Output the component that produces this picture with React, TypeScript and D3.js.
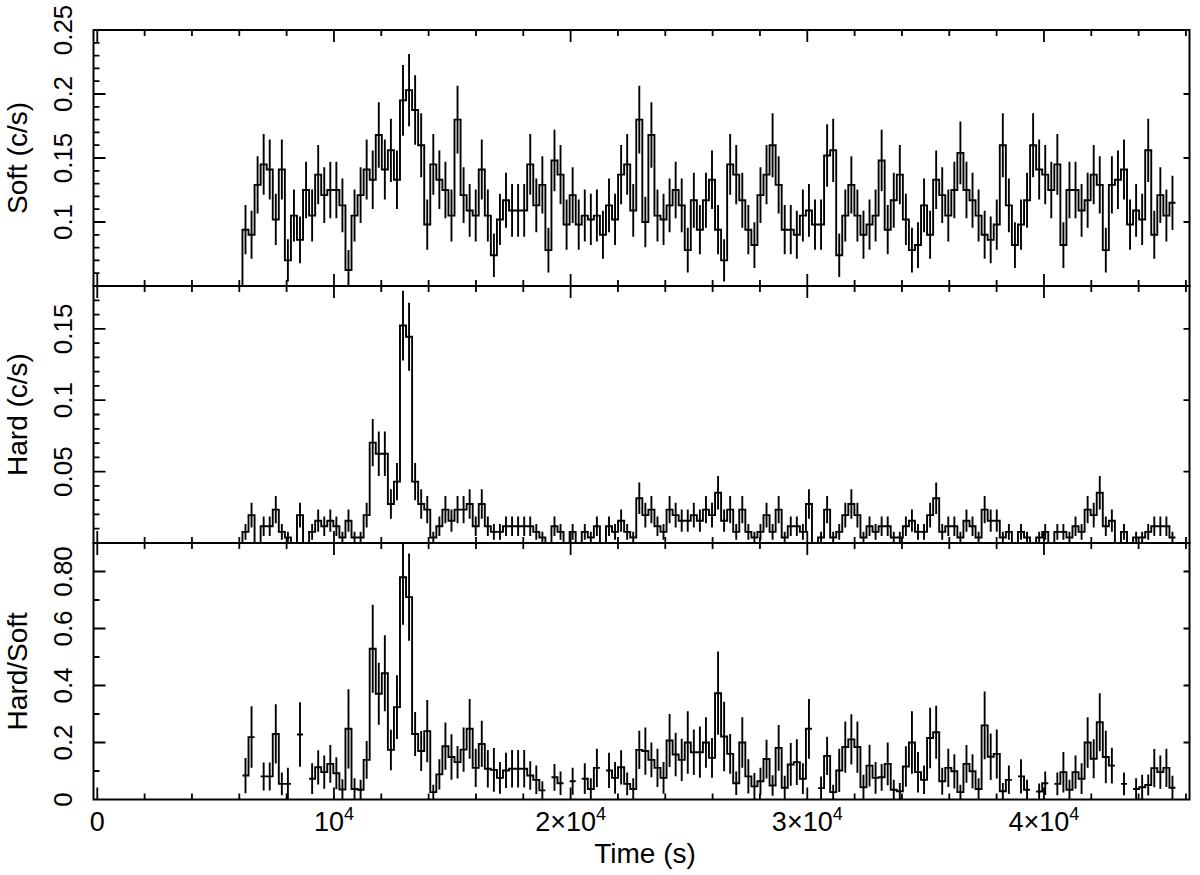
import React from 'react';
import * as d3 from 'd3';

// Light curve: 256 s bins starting at t = 6262 s (bin centres)
const BIN_START = 6262;
const BIN_WIDTH = 256;

const soft = [
  0.094,0.090,0.129,0.145,0.141,0.102,0.141,0.070,0.105,0.086,
  0.125,0.105,0.137,0.121,0.125,0.125,0.113,0.0625,0.105,0.121,
  0.141,0.133,0.168,0.141,0.156,0.133,0.195,0.203,0.1875,0.160,
  0.098,0.145,0.133,0.125,0.105,0.180,0.121,0.109,0.105,0.141,
  0.105,0.074,0.102,0.117,0.109,0.109,0.109,0.145,0.113,0.129,
  0.078,0.148,0.137,0.098,0.121,0.098,0.105,0.102,0.105,0.090,
  0.113,0.102,0.137,0.145,0.109,0.180,0.100,0.168,0.105,0.102,
  0.113,0.125,0.113,0.078,0.117,0.094,0.117,0.133,0.094,0.070,
  0.145,0.137,0.117,0.094,0.082,0.121,0.137,0.160,0.129,0.094,
  0.094,0.090,0.105,0.109,0.098,0.098,0.152,0.156,0.074,0.105,
  0.129,0.105,0.090,0.098,0.105,0.148,0.094,0.117,0.137,0.102,
  0.078,0.082,0.113,0.090,0.133,0.121,0.105,0.125,0.154,0.125,
  0.117,0.105,0.090,0.086,0.098,0.160,0.113,0.082,0.098,0.117,
  0.160,0.141,0.137,0.125,0.145,0.082,0.125,0.125,0.109,0.117,
  0.137,0.129,0.078,0.129,0.133,0.141,0.098,0.109,0.102,0.156,
  0.090,0.121,0.105,0.115,
];
const softErr = [
  0.0192,0.0188,0.0224,0.0238,0.0235,0.0200,0.0235,0.0165,0.0203,0.0183,
  0.0221,0.0203,0.0231,0.0217,0.0221,0.0221,0.0210,0.0156,0.0203,0.0217,
  0.0235,0.0228,0.0256,0.0235,0.0247,0.0228,0.0276,0.0282,0.0271,0.0250,
  0.0196,0.0238,0.0228,0.0221,0.0203,0.0265,0.0217,0.0206,0.0203,0.0235,
  0.0203,0.0170,0.0200,0.0214,0.0206,0.0206,0.0206,0.0238,0.0210,0.0224,
  0.0175,0.0240,0.0231,0.0196,0.0217,0.0196,0.0203,0.0200,0.0203,0.0188,
  0.0210,0.0200,0.0231,0.0238,0.0206,0.0265,0.0198,0.0256,0.0203,0.0200,
  0.0210,0.0221,0.0210,0.0175,0.0214,0.0192,0.0214,0.0228,0.0192,0.0165,
  0.0238,0.0231,0.0214,0.0192,0.0179,0.0217,0.0231,0.0250,0.0224,0.0192,
  0.0192,0.0188,0.0203,0.0206,0.0196,0.0196,0.0244,0.0247,0.0170,0.0203,
  0.0224,0.0203,0.0188,0.0196,0.0203,0.0240,0.0192,0.0214,0.0231,0.0200,
  0.0175,0.0179,0.0210,0.0188,0.0228,0.0217,0.0203,0.0221,0.0245,0.0221,
  0.0214,0.0203,0.0188,0.0183,0.0196,0.0250,0.0210,0.0179,0.0196,0.0214,
  0.0250,0.0235,0.0231,0.0221,0.0238,0.0179,0.0221,0.0221,0.0206,0.0214,
  0.0231,0.0224,0.0175,0.0224,0.0228,0.0235,0.0196,0.0206,0.0200,0.0247,
  0.0188,0.0217,0.0203,0.0212,
];

const hard = [
  0.0078,0.0195,0,0.0117,0.0117,0.0234,0.0078,0.0039,0,0.0195,
  0,0.0078,0.0156,0.0117,0.0156,0.0117,0.0039,0.0156,0.0039,0.0039,
  0.0195,0.0703,0.0625,0.0625,0.0273,0.0430,0.1523,0.1445,0.0430,0.0273,
  0.0234,0.0039,0.0117,0.0234,0.0156,0.0234,0.0234,0.0273,0.0117,0.0273,
  0.0117,0.0078,0.0078,0.0117,0.0117,0.0117,0.0117,0.0117,0.0078,0.0039,
  0,0.0117,0.0078,0,0.0078,0,0.0078,0.0039,0.0117,0,
  0.0117,0.0078,0.0156,0.0078,0.0039,0.0313,0.0195,0.0234,0.0117,0.0078,
  0.0234,0.0195,0.0156,0.0156,0.0195,0.0156,0.0234,0.0195,0.0352,0.0156,
  0.0234,0.0078,0.0234,0.0078,0.0039,0.0078,0.0195,0.0078,0.0234,0.0039,
  0.0117,0.0117,0.0078,0.0273,0,0.0039,0.0234,0.0039,0.0078,0.0195,
  0.0273,0.0195,0.0039,0.0117,0.0078,0.0117,0.0117,0.0039,0.0039,0.0117,
  0.0156,0.0078,0.0078,0.0195,0.0313,0.0078,0.0117,0.0117,0.0039,0.0156,
  0.0117,0.0039,0.0234,0.0156,0.0156,0.0039,0.0078,0,0.0078,0.0039,
  0,0.0039,0.0078,0,0.0078,0.0078,0.0039,0.0117,0.0078,0.0234,
  0.0195,0.0352,0.0117,0.0156,0,0.0078,0,0.0039,0.0039,0.0078,
  0.0117,0.0117,0.0117,0.0039,
];
const hardErr = [
  0.0055,0.0087,0,0.0068,0.0068,0.0096,0.0055,0.0039,0,0.0087,
  0,0.0055,0.0078,0.0068,0.0078,0.0068,0.0039,0.0078,0.0039,0.0039,
  0.0087,0.0166,0.0156,0.0156,0.0103,0.0130,0.0244,0.0238,0.0130,0.0103,
  0.0096,0.0039,0.0068,0.0096,0.0078,0.0096,0.0096,0.0103,0.0068,0.0103,
  0.0068,0.0055,0.0055,0.0068,0.0068,0.0068,0.0068,0.0068,0.0055,0.0039,
  0,0.0068,0.0055,0,0.0055,0,0.0055,0.0039,0.0068,0,
  0.0068,0.0055,0.0078,0.0055,0.0039,0.0110,0.0087,0.0096,0.0068,0.0055,
  0.0096,0.0087,0.0078,0.0078,0.0087,0.0078,0.0096,0.0087,0.0117,0.0078,
  0.0096,0.0055,0.0096,0.0055,0.0039,0.0055,0.0087,0.0055,0.0096,0.0039,
  0.0068,0.0068,0.0055,0.0103,0,0.0039,0.0096,0.0039,0.0055,0.0087,
  0.0103,0.0087,0.0039,0.0068,0.0055,0.0068,0.0068,0.0039,0.0039,0.0068,
  0.0078,0.0055,0.0055,0.0087,0.0110,0.0055,0.0068,0.0068,0.0039,0.0078,
  0.0068,0.0039,0.0096,0.0078,0.0078,0.0039,0.0055,0,0.0055,0.0039,
  0,0.0039,0.0055,0,0.0055,0.0055,0.0039,0.0068,0.0055,0.0096,
  0.0087,0.0117,0.0068,0.0078,0,0.0055,0,0.0039,0.0039,0.0055,
  0.0068,0.0068,0.0068,0.0039,
];

const ratio: (number | null)[] = [
  0.084,0.219,null,0.081,0.081,0.230,0.055,0.055,null,0.228,
  null,0.073,0.113,0.096,0.125,0.092,0.035,0.248,0.037,0.034,
  0.139,0.529,0.371,0.443,0.174,0.324,0.780,0.710,0.230,0.170,
  0.240,0.026,0.088,0.187,0.149,0.131,0.175,0.248,0.111,0.195,
  0.108,0.104,0.076,0.102,0.108,0.108,0.108,0.084,0.069,0.032,
  null,0.078,0.057,null,0.064,null,0.073,0.037,0.111,null,
  0.102,0.076,0.113,0.055,0.037,0.174,0.170,0.139,0.111,0.076,
  0.207,0.158,0.139,0.200,0.166,0.166,0.200,0.146,0.373,0.221,
  0.160,0.057,0.200,0.081,0.046,0.064,0.142,0.049,0.181,0.041,
  0.123,0.131,0.073,0.248,null,0.040,0.153,0.026,0.102,0.184,
  0.211,0.184,0.043,0.119,0.076,0.078,0.125,0.034,0.029,0.116,
  0.200,0.096,0.069,0.216,0.236,0.064,0.111,0.099,0.026,0.125,
  0.099,0.037,0.260,0.150,0.160,0.029,0.069,null,0.081,0.034,
  null,0.028,0.057,null,0.055,0.096,0.034,0.096,0.073,0.200,
  0.143,0.271,0.149,0.119,null,0.055,null,0.037,0.043,0.051,
  0.110,0.096,0.111,0.041,
];
const ratioErr: (number | null)[] = [
  0.062,0.108,null,0.049,0.049,0.104,0.040,0.056,null,0.113,
  null,0.054,0.060,0.058,0.066,0.056,0.036,0.139,0.038,0.035,
  0.066,0.154,0.109,0.133,0.071,0.112,0.167,0.153,0.077,0.070,
  0.109,0.026,0.053,0.083,0.080,0.057,0.078,0.105,0.067,0.081,
  0.066,0.077,0.056,0.062,0.066,0.066,0.066,0.050,0.050,0.032,
  null,0.047,0.041,null,0.047,null,0.054,0.038,0.067,null,
  0.062,0.056,0.060,0.040,0.038,0.067,0.083,0.061,0.067,0.056,
  0.093,0.076,0.074,0.110,0.080,0.090,0.089,0.070,0.146,0.122,
  0.070,0.041,0.089,0.060,0.047,0.047,0.068,0.036,0.080,0.042,
  0.075,0.080,0.054,0.105,null,0.041,0.067,0.026,0.076,0.090,
  0.088,0.090,0.044,0.073,0.056,0.047,0.075,0.035,0.029,0.071,
  0.110,0.071,0.050,0.106,0.093,0.047,0.067,0.060,0.026,0.066,
  0.060,0.038,0.119,0.082,0.086,0.029,0.050,null,0.060,0.035,
  null,0.028,0.041,null,0.040,0.071,0.035,0.058,0.054,0.089,
  0.068,0.102,0.092,0.063,null,0.040,null,0.038,0.044,0.037,
  0.067,0.058,0.067,0.042,
];

// Axis ticks and labels
const xMajorTicks = [0, 10000, 20000, 30000, 40000];
const xTickBase = ['0', '10', '2×10', '3×10', '4×10'];
const xTickExp = ['', '4', '4', '4', '4'];

const softTicks = [0.1, 0.15, 0.2, 0.25];
const softTickLabels = ['0.1', '0.15', '0.2', '0.25'];
const hardTicks = [0.05, 0.1, 0.15];
const hardTickLabels = ['0.05', '0.1', '0.15'];
const ratioTicks = [0, 0.2, 0.4, 0.6, 0.8];
const ratioTickLabels = ['0', '0.2', '0.4', '0.6', '0.80'];

const FONT = '"Liberation Sans", Arial, Helvetica, sans-serif';
const LEFT = 93.5;
const RIGHT = 1189.5;

const x = d3.scaleLinear().domain([-160, 46150]).range([LEFT, RIGHT]);

type PanelDef = {
  key: string;
  title: string;
  top: number;
  bottom: number;
  domain: [number, number];
  vals: (number | null)[];
  errs: (number | null)[];
  fromZero: boolean;
  ticks: number[];
  tickLabels: string[];
  minorStep: number;
  majorStep: number;
};

const panels: PanelDef[] = [
  { key: 'soft', title: 'Soft (c/s)', top: 30, bottom: 286, domain: [0.05, 0.25], vals: soft, errs: softErr, fromZero: true, ticks: softTicks, tickLabels: softTickLabels, minorStep: 0.01, majorStep: 0.05 },
  { key: 'hard', title: 'Hard (c/s)', top: 286, bottom: 543, domain: [0, 0.18], vals: hard, errs: hardErr, fromZero: true, ticks: hardTicks, tickLabels: hardTickLabels, minorStep: 0.01, majorStep: 0.05 },
  { key: 'ratio', title: 'Hard/Soft', top: 543, bottom: 799.5, domain: [0, 0.9], vals: ratio, errs: ratioErr, fromZero: false, ticks: ratioTicks, tickLabels: ratioTickLabels, minorStep: 0.1, majorStep: 0.2 },
];

function stepPath(vals: (number | null)[], y: d3.ScaleLinear<number, number>, fromZero: boolean) {
  const p = d3.path();
  let inRun = false;
  vals.forEach((v, i) => {
    const t = BIN_START + i * BIN_WIDTH;
    const x0 = x(t - BIN_WIDTH / 2);
    const x1 = x(t + BIN_WIDTH / 2);
    if (v == null) { inRun = false; return; }
    const yy = y(v);
    if (!inRun) {
      if (fromZero && i === 0) { p.moveTo(x0, y(0)); p.lineTo(x0, yy); }
      else p.moveTo(x0, yy);
      inRun = true;
    } else {
      p.lineTo(x0, yy);
    }
    p.lineTo(x1, yy);
  });
  return p.toString();
}

function errPath(vals: (number | null)[], errs: (number | null)[], y: d3.ScaleLinear<number, number>) {
  const p = d3.path();
  vals.forEach((v, i) => {
    const e = errs[i];
    if (v == null || e == null || e <= 0) return;
    const xc = x(BIN_START + i * BIN_WIDTH);
    p.moveTo(xc, y(v - e));
    p.lineTo(xc, y(v + e));
  });
  return p.toString();
}

function Panel({ def }: { def: PanelDef }) {
  const y = d3.scaleLinear().domain(def.domain).range([def.bottom, def.top]);
  const clipId = `clip-${def.key}`;
  const xMinor = d3.range(0, 46001, 2000).filter((t) => t % 10000 !== 0);
  const [d0, d1] = def.domain;
  const nMinor = Math.round((d1 - d0) / def.minorStep);
  const yMinorAll = d3.range(0, nMinor + 1).map((k) => +(d0 + k * def.minorStep).toFixed(4));
  const isMajor = (v: number) => Math.abs(v / def.majorStep - Math.round(v / def.majorStep)) < 1e-6;
  const tk = d3.path();
  xMajorTicks.forEach((t) => {
    const xx = x(t);
    tk.moveTo(xx, def.top); tk.lineTo(xx, def.top + 12);
    tk.moveTo(xx, def.bottom); tk.lineTo(xx, def.bottom - 12);
  });
  xMinor.forEach((t) => {
    const xx = x(t);
    tk.moveTo(xx, def.top); tk.lineTo(xx, def.top + 6);
    tk.moveTo(xx, def.bottom); tk.lineTo(xx, def.bottom - 6);
  });
  yMinorAll.forEach((v) => {
    const yy = y(v);
    if (yy < def.top + 0.5 || yy > def.bottom - 0.5) return;
    const len = isMajor(v) ? 12 : 6;
    tk.moveTo(LEFT, yy); tk.lineTo(LEFT + len, yy);
    if (isMajor(v)) { tk.moveTo(RIGHT, yy); tk.lineTo(RIGHT - 6, yy); }
  });
  const midY = (def.top + def.bottom) / 2;
  return (
    <g>
      <defs>
        <clipPath id={clipId}>
          <rect x={LEFT} y={def.top} width={RIGHT - LEFT} height={def.bottom - def.top} />
        </clipPath>
      </defs>
      <g clipPath={`url(#${clipId})`} fill="none" stroke="#000" strokeWidth={1.9}>
        <path d={stepPath(def.vals, y, def.fromZero)} strokeLinejoin="miter" />
        <path d={errPath(def.vals, def.errs, y)} />
      </g>
      <path d={tk.toString()} stroke="#000" strokeWidth={1.8} fill="none" />
      <rect x={LEFT} y={def.top} width={RIGHT - LEFT} height={def.bottom - def.top} fill="none" stroke="#000" strokeWidth={2} />
      {def.ticks.map((v, i) => (
        <text key={i} transform={`translate(72,${y(v)}) rotate(-90)`} textAnchor="middle" fontSize={26} fontFamily={FONT}>
          {def.tickLabels[i]}
        </text>
      ))}
      <text transform={`translate(27,${midY}) rotate(-90)`} textAnchor="middle" fontSize={28} fontFamily={FONT}>
        {def.title}
      </text>
    </g>
  );
}

export default function App() {
  return (
    <svg width={1200} height={875} style={{ position: 'absolute', left: 0, top: 0, background: '#fff' }}>
      <rect x={0} y={0} width={1200} height={875} fill="#fff" />
      {panels.map((p) => <Panel key={p.key} def={p} />)}
      {xMajorTicks.map((t, i) => (
        <text key={i} x={x(t)} y={831} textAnchor="middle" fontSize={27} fontFamily={FONT}>
          {xTickBase[i]}
          {xTickExp[i] && <tspan dy={-11} fontSize={18}>{xTickExp[i]}</tspan>}
        </text>
      ))}
      <text x={645} y={863} textAnchor="middle" fontSize={28} fontFamily={FONT}>Time (s)</text>
    </svg>
  );
}
